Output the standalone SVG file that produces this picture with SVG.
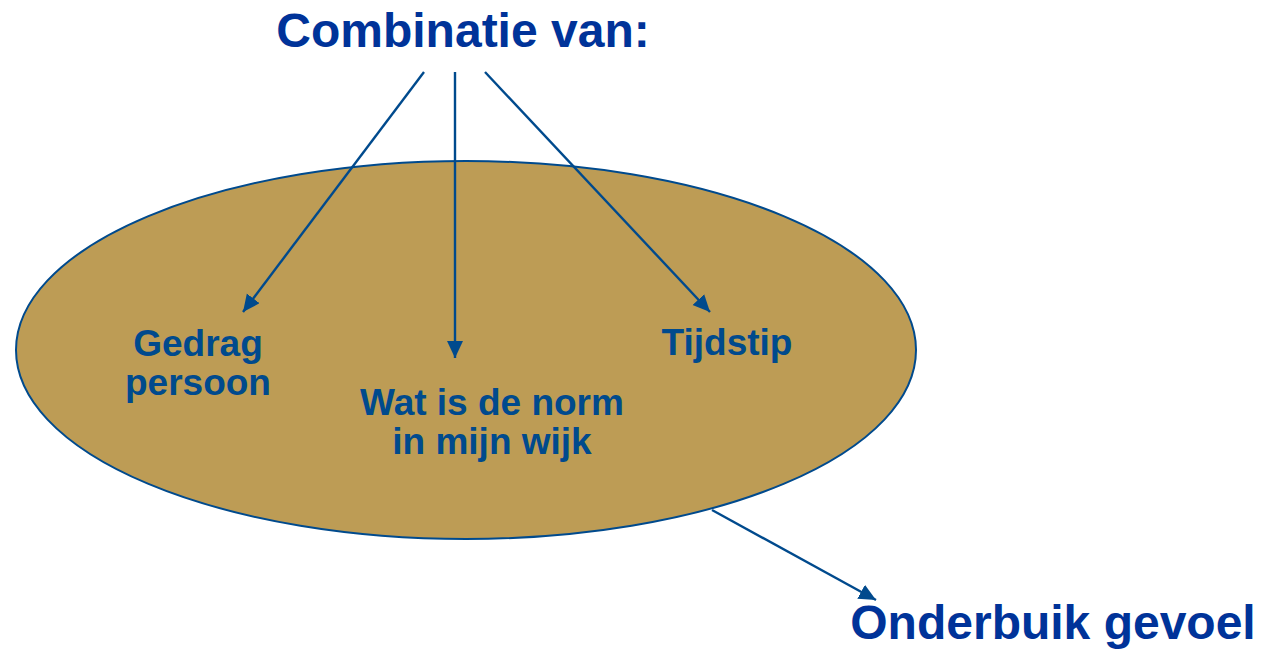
<svg xmlns="http://www.w3.org/2000/svg" width="1266" height="649" viewBox="0 0 1266 649">
<style>
.t{font-family:"Liberation Sans",Arial,sans-serif;font-weight:bold;text-anchor:middle}
.big{font-size:48px;fill:#003399}
.lab{font-size:37px;fill:#004A8D}
.c{stroke:#004A8D;stroke-width:2.4;fill:none;marker-end:url(#ah)}
</style>
<defs>
<marker id="ah" markerUnits="userSpaceOnUse" markerWidth="20" markerHeight="18" refX="17" refY="8" orient="auto">
<path d="M0,0 L17,8 L0,16 Z" fill="#004A8D"/>
</marker>
</defs>
<rect width="1266" height="649" fill="#fff"/>
<g id="ellipse">
<ellipse cx="466" cy="350" rx="450" ry="189" fill="#BD9C55" stroke="#004A8D" stroke-width="2"/>
</g>
<g id="title"><text class="t big" x="463" y="47">Combinatie van:</text></g>
<g id="gedrag"><text class="t lab" x="198" y="356">Gedrag</text><text class="t lab" x="198" y="395">persoon</text></g>
<g id="norm"><text class="t lab" x="492" y="415">Wat is de norm</text><text class="t lab" x="492" y="454">in mijn wijk</text></g>
<g id="tijdstip"><text class="t lab" x="727" y="355">Tijdstip</text></g>
<g id="onderbuik"><text class="t big" x="1053" y="639">Onderbuik gevoel</text></g>
<g id="connectors">
<line class="c" x1="424" y1="72" x2="243" y2="312"/>
<line class="c" x1="455" y1="72" x2="455" y2="358"/>
<line class="c" x1="485" y1="72" x2="710" y2="312"/>
<line class="c" x1="712" y1="510" x2="876" y2="600"/>
</g>
</svg>
